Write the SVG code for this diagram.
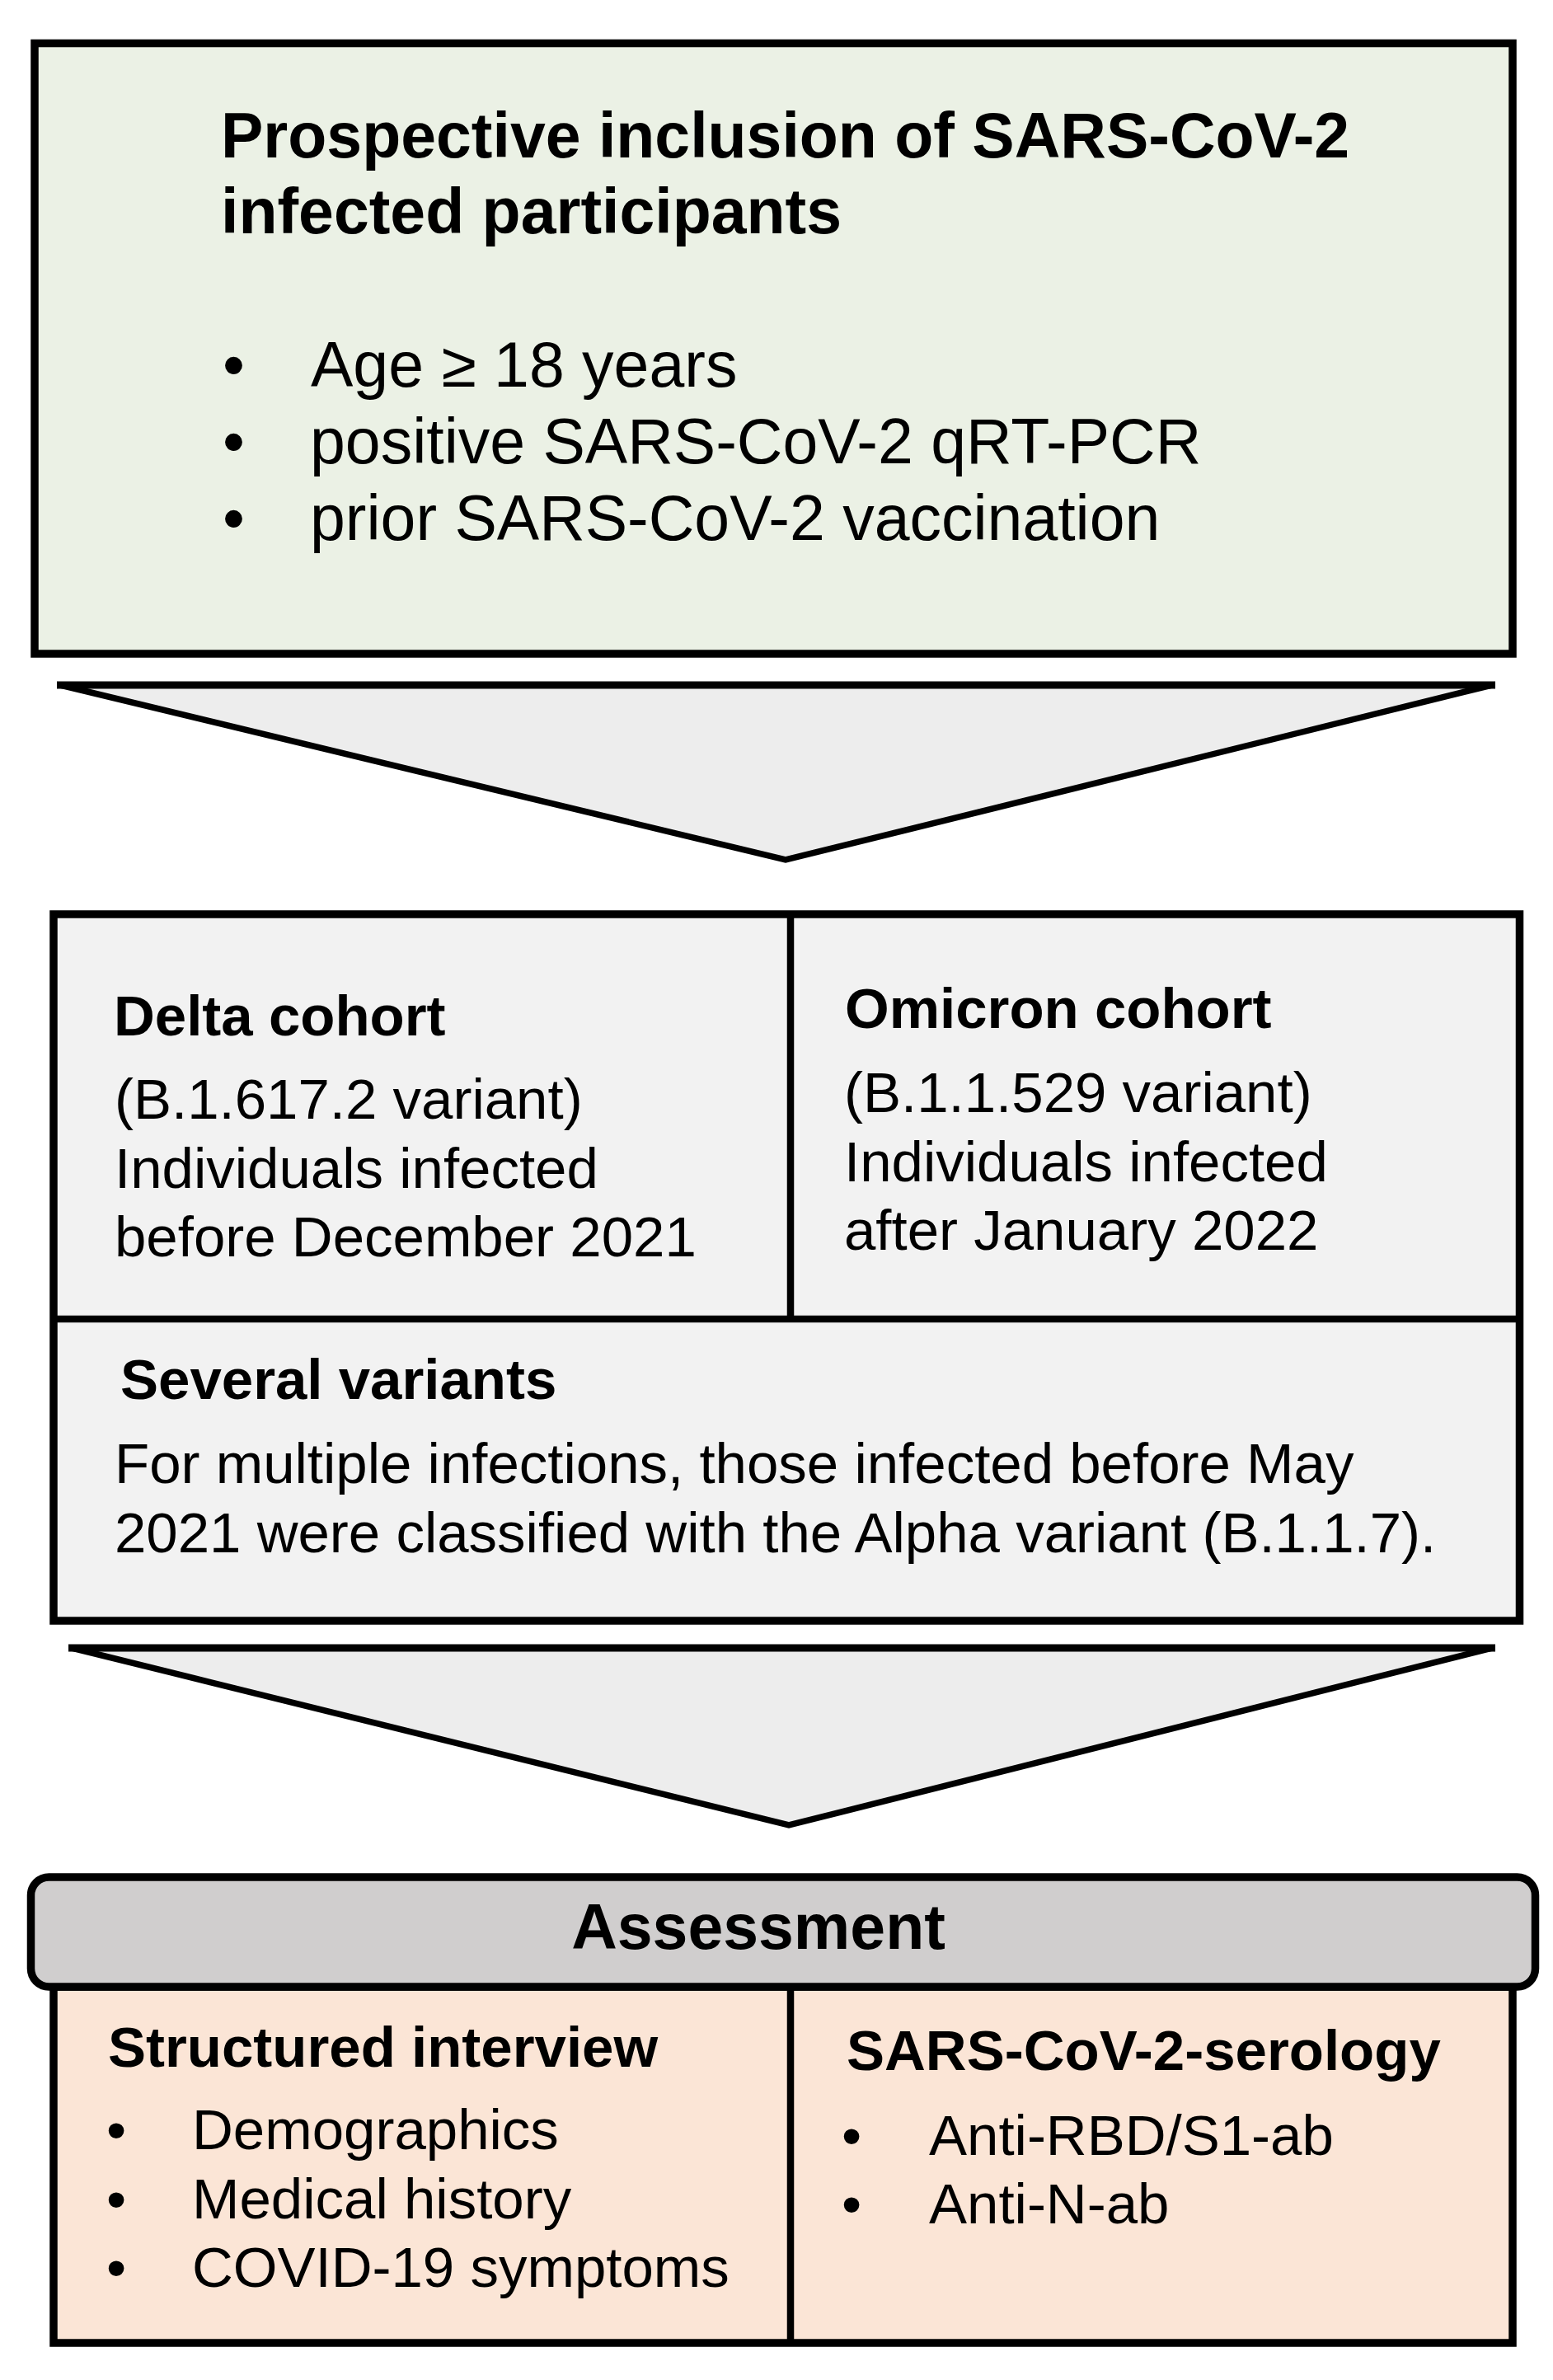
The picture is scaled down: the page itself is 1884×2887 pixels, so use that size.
<svg xmlns="http://www.w3.org/2000/svg" width="1884" height="2887" viewBox="0 0 1884 2887">
<style>
.box{stroke:#000;stroke-width:9.5}
.div{stroke:#000;stroke-width:8.5}
.t{font-family:"Liberation Sans",Arial,sans-serif;fill:#000}
.b{font-weight:bold}
.big{font-size:77px}
.mid{font-size:69px}
.chev{fill:#EDEDED;stroke:#000;stroke-width:7.5}
.chevtop{stroke:#000;stroke-width:9;fill:none}
</style>
<rect width="1884" height="2887" fill="#fff"/>

<g id="inclusion">
<rect class="box" x="42" y="52.5" width="1793" height="740.5" fill="#EBF1E5"/>
<text class="t b big" x="268" y="191">Prospective inclusion of SARS-CoV-2</text>
<text class="t b big" x="268" y="283">infected participants</text>
<text class="t big" x="270" y="469">•</text>
<text class="t big" x="377" y="469">Age ≥ 18 years</text>
<text class="t big" x="270" y="562">•</text>
<text class="t big" x="376" y="562">positive SARS-CoV-2 qRT-PCR</text>
<text class="t big" x="270" y="655">•</text>
<text class="t big" x="376" y="655">prior SARS-CoV-2 vaccination</text>
</g>

<g id="connectors">
<g id="arrow1">
<polygon class="chev" points="73,831 1810,831 953,1043"/>
<line class="chevtop" x1="69" y1="831" x2="1814" y2="831"/>
</g>
<g id="arrow2">
<polygon class="chev" points="87,1999 1810,1999 957,2214"/>
<line class="chevtop" x1="83" y1="1999" x2="1814" y2="1999"/>
</g>
</g>

<g id="cohorts">
<rect class="box" x="65" y="1109" width="1778.5" height="857" fill="#F2F2F2"/>
<line class="div" x1="959" y1="1109" x2="959" y2="1600"/>
<line class="div" x1="65" y1="1600" x2="1843.5" y2="1600"/>
<g id="delta">
<text class="t b mid" x="138" y="1256">Delta cohort</text>
<text class="t mid" x="139" y="1357">(B.1.617.2 variant)</text>
<text class="t mid" x="139" y="1441">Individuals infected</text>
<text class="t mid" x="139" y="1524">before December 2021</text>
</g>
<g id="omicron">
<text class="t b mid" x="1025" y="1247">Omicron cohort</text>
<text class="t mid" x="1024" y="1349">(B.1.1.529 variant)</text>
<text class="t mid" x="1024" y="1433">Individuals infected</text>
<text class="t mid" x="1024" y="1516">after January 2022</text>
</g>
<g id="several">
<text class="t b mid" x="146" y="1697">Several variants</text>
<text class="t mid" x="139" y="1799">For multiple infections, those infected before May</text>
<text class="t mid" x="139" y="1883">2021 were classified with the Alpha variant (B.1.1.7).</text>
</g>
</g>

<g id="assessment">
<rect class="box" x="65" y="2410" width="1770" height="432" fill="#FBE5D6"/>
<line class="div" x1="959" y1="2410" x2="959" y2="2842"/>
<rect class="box" x="37.5" y="2277" width="1825" height="133" rx="22" ry="22" fill="#D0CECE"/>
<text class="t b big" x="920" y="2364" text-anchor="middle">Assessment</text>
<g id="interview">
<text class="t b mid" x="131" y="2507">Structured interview</text>
<text class="t mid" x="129" y="2607">•</text>
<text class="t mid" x="233" y="2607">Demographics</text>
<text class="t mid" x="129" y="2691">•</text>
<text class="t mid" x="233" y="2691">Medical history</text>
<text class="t mid" x="129" y="2774">•</text>
<text class="t mid" x="233" y="2774">COVID-19 symptoms</text>
</g>
<g id="serology">
<text class="t b mid" x="1027" y="2511">SARS-CoV-2-serology</text>
<text class="t mid" x="1021" y="2614">•</text>
<text class="t mid" x="1127" y="2614">Anti-RBD/S1-ab</text>
<text class="t mid" x="1021" y="2697">•</text>
<text class="t mid" x="1127" y="2697">Anti-N-ab</text>
</g>
</g>
</svg>
